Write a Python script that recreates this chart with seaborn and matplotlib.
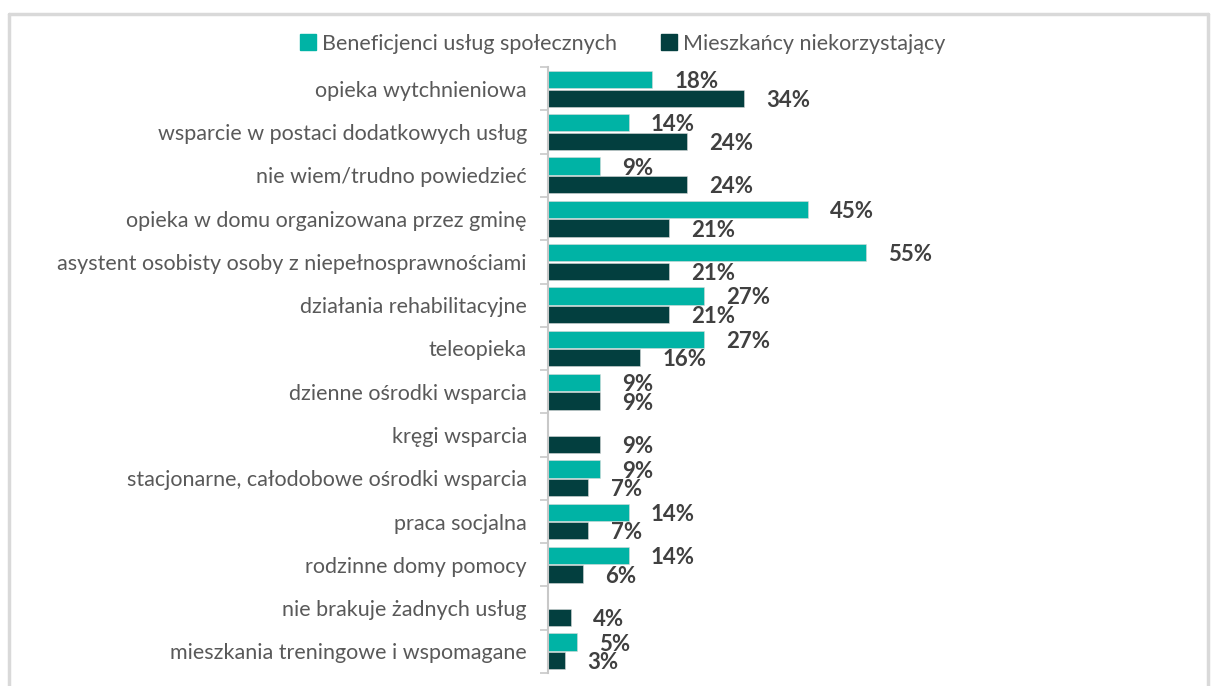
import numpy as np
import pandas as pd
import seaborn as sns
import matplotlib.pyplot as plt
from matplotlib.lines import Line2D
from matplotlib.ticker import FixedLocator

categories = [
    "opieka wytchnieniowa",
    "wsparcie w postaci dodatkowych usług",
    "nie wiem/trudno powiedzieć",
    "opieka w domu organizowana przez gminę",
    "asystent osobisty osoby z niepełnosprawnościami",
    "działania rehabilitacyjne",
    "teleopieka",
    "dzienne ośrodki wsparcia",
    "kręgi wsparcia",
    "stacjonarne, całodobowe ośrodki wsparcia",
    "praca socjalna",
    "rodzinne domy pomocy",
    "nie brakuje żadnych usług",
    "mieszkania treningowe i wspomagane",
]
beneficjenci = [18, 14, 9, 45, 55, 27, 27, 9, np.nan, 9, 14, 14, np.nan, 5]
mieszkancy = [34, 24, 24, 21, 21, 21, 16, 9, 9, 7, 7, 6, 4, 3]
series = ["Beneficjenci usług społecznych", "Mieszkańcy niekorzystający"]
colors = ["#00B3A5", "#033F3F"]

df = pd.DataFrame({
    "kategoria": categories * 2,
    "grupa": [series[0]] * len(categories) + [series[1]] * len(categories),
    "wartosc": beneficjenci + mieszkancy,
})

sns.set_theme(style="white")
plt.rcParams["font.family"] = ["Lato", "DejaVu Sans"]

fig = plt.figure(figsize=(12.12, 6.86), dpi=100)
ax = fig.add_axes([0.452, 0.019, 0.50, 0.883])

sns.barplot(data=df, y="kategoria", x="wartosc", hue="grupa", order=categories,
            hue_order=series, palette=colors, saturation=1, orient="h", width=0.86, gap=0.07,
            edgecolor="#d8d8d8", linewidth=0.4, legend=False, ax=ax)

# value labels; seaborn leaves out bars with no data, so read each bar's own width
for cont in ax.containers:
    for bar in cont:
        if bar is None:
            continue
        w = bar.get_width()
        if np.isnan(w):
            continue
        ax.annotate(f"{w:.0f}%", xy=(w, bar.get_y() + bar.get_height() / 2),
                    xytext=(16, -1.5), textcoords="offset points", ha="left", va="center",
                    fontsize=16, fontweight="bold", color="#404040")

xmax = (1150 - 548) / 5.745
ax.set_xlim(0, xmax)
ax.set_ylim(len(categories) - 0.5, -0.5)
ax.set_xlabel("")
ax.set_ylabel("")
ax.set_xticks([])
ax.tick_params(axis="y", which="major", length=0, labelsize=15.5, labelcolor="#595959", pad=15)
ax.yaxis.set_minor_locator(FixedLocator(np.arange(-0.5, len(categories), 1)))
ax.tick_params(axis="y", which="minor", length=6, width=1.2, color="#c8c8c8", direction="out", left=True)
for s in ["top", "right", "bottom"]:
    ax.spines[s].set_visible(False)
ax.spines["left"].set_color("#c8c8c8")
ax.spines["left"].set_linewidth(1.5)

handles = [Line2D([], [], marker="s", linestyle="", markersize=11, color=c) for c in colors]
fig.legend(handles, series, loc="center", bbox_to_anchor=(620 / 1212, 1 - 44 / 686), ncol=2,
           frameon=False, fontsize=15.5, handletextpad=0.05, columnspacing=1.8,
           handlelength=1.2, labelcolor="#595959")

# frame around the chart area
fig.add_artist(Line2D([9 / 1212, 9 / 1212], [0, 1 - 14 / 686], transform=fig.transFigure,
                      color="#d9d9d9", linewidth=2.5))
fig.add_artist(Line2D([9 / 1212, 1208 / 1212], [1 - 14 / 686, 1 - 14 / 686], transform=fig.transFigure,
                      color="#d9d9d9", linewidth=2.5))
fig.add_artist(Line2D([1208 / 1212, 1208 / 1212], [0, 1 - 14 / 686], transform=fig.transFigure,
                      color="#d9d9d9", linewidth=2.5))

fig.savefig("out.png", dpi=100)
